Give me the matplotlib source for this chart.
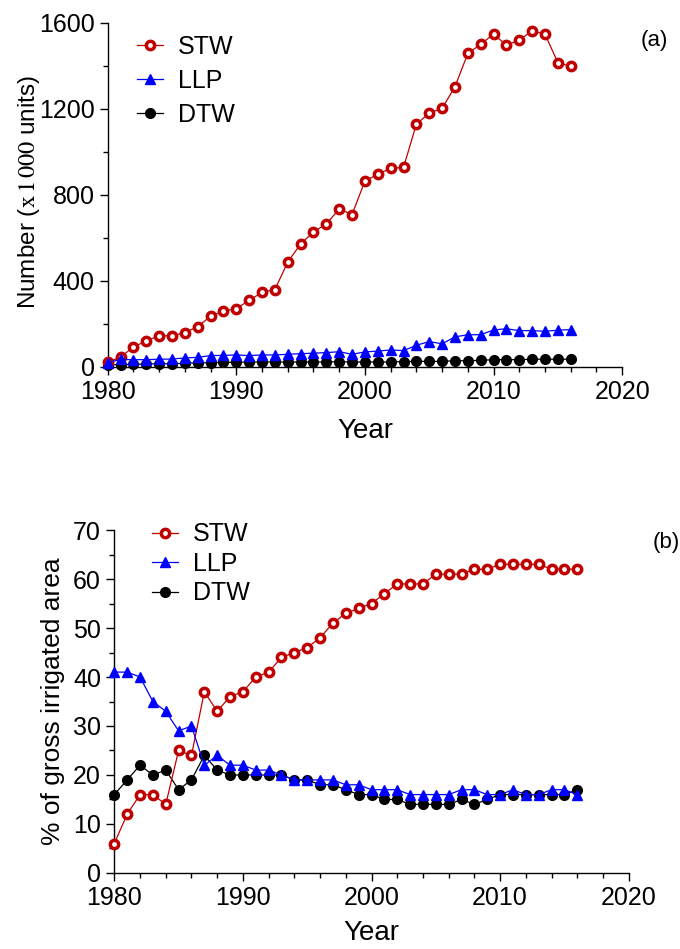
import matplotlib
matplotlib.use('Agg')
import matplotlib.pyplot as plt
from matplotlib import font_manager
from matplotlib.ticker import MultipleLocator

names = set(f.name for f in font_manager.fontManager.ttflist)
fam = 'Liberation Sans Narrow' if 'Liberation Sans Narrow' in names else 'Liberation Sans'
plt.rcParams['font.family'] = [fam, 'DejaVu Sans']
plt.rcParams['mathtext.fontset'] = 'stix'

years = list(range(1980, 2017))

# (a) number of units (x1000)
stw_num = [22, 46, 93, 121, 146, 144, 160, 188, 236, 260, 271, 310, 347, 360, 488, 572, 628,
           665, 735, 709, 865, 896, 924, 928, 1129, 1181, 1203, 1303, 1458, 1501, 1548, 1497,
           1520, 1563, 1548, 1416, 1398]
llp_num = [20, 35, 34, 34, 36, 37, 42, 45, 53, 54, 56, 53, 56, 56, 59, 62, 64,
           67, 71, 59, 70, 74, 79, 76, 101, 118, 108, 140, 150, 150, 172, 178,
           169, 169, 166, 171, 174]
dtw_num = [10, 11, 12, 14, 15, 15, 17, 19, 20, 22, 22, 23, 23, 23, 23, 23, 23,
           23, 25, 23, 23, 23, 23, 25, 26, 26, 26, 29, 29, 31, 34, 34,
           34, 36, 36, 36, 36]

# (b) % of gross irrigated area
stw_pct = [6, 12, 16, 16, 14, 25, 24, 37, 33, 36, 37, 40, 41, 44, 45, 46, 48, 51, 53, 54, 55,
           57, 59, 59, 59, 61, 61, 61, 62, 62, 63, 63, 63, 63, 62, 62, 62]
llp_pct = [41, 41, 40, 35, 33, 29, 30, 22, 24, 22, 22, 21, 21, 20, 19, 19, 19, 19, 18, 18, 17,
           17, 17, 16, 16, 16, 16, 17, 17, 16, 16, 17, 16, 16, 17, 17, 16]
dtw_pct = [16, 19, 22, 20, 21, 17, 19, 24, 21, 20, 20, 20, 20, 20, 19, 19, 18, 18, 17, 16, 16,
           15, 15, 14, 14, 14, 14, 15, 14, 15, 16, 16, 16, 16, 16, 16, 17]

red = '#c00000'
blue = '#0000ff'


def draw(ax, stw, llp, dtw):
    ax.plot(years, stw, color=red, lw=0.9, marker='o', ms=6, mfc='white', mec=red, mew=2.5,
            label='STW', zorder=3)
    ax.plot(years, llp, color=blue, lw=0.9, marker='^', ms=7, mfc=blue, mec=blue,
            label='LLP', zorder=4)
    ax.plot(years, dtw, color='black', lw=0.9, marker='o', ms=7, mfc='black', mec='black',
            label='DTW', zorder=2)
    for s in ['top', 'right']:
        ax.spines[s].set_visible(False)
    for s in ['left', 'bottom']:
        ax.spines[s].set_linewidth(1.0)
    ax.set_xlim(1980, 2020)
    ax.xaxis.set_major_locator(MultipleLocator(10))
    ax.xaxis.set_minor_locator(MultipleLocator(2))
    ax.tick_params(which='major', length=6, width=1.0, labelsize=18, direction='out')
    ax.tick_params(which='minor', length=3.5, width=1.0, direction='out')
    for p in ax.get_lines():
        p.set_clip_on(False)


fig = plt.figure(figsize=(6.8, 9.49), dpi=100)

ax1 = fig.add_axes([0.1584, 0.6133, 0.7565, 0.3625])
draw(ax1, stw_num, llp_num, dtw_num)
ax1.set_ylim(0, 1600)
ax1.yaxis.set_major_locator(MultipleLocator(400))
ax1.yaxis.set_minor_locator(MultipleLocator(200))
ax1.set_xlabel('Year', fontsize=20, labelpad=10)
ax1.set_ylabel(r'Number ($\mathrm{x}\,1\,000$ units)', fontsize=17.5)
ax1.yaxis.set_label_coords(-0.128, 0.51)
ax1.legend(loc='upper left', bbox_to_anchor=(0.056, 0.965), frameon=False, fontsize=18,
           handlelength=1.05, handletextpad=0.6, labelspacing=0.4,
           borderpad=0, borderaxespad=0)
ax1.text(1.09, 0.95, '(a)', transform=ax1.transAxes, fontsize=16, ha='right', va='center')

ax2 = fig.add_axes([0.1681, 0.0801, 0.7565, 0.3614])
draw(ax2, stw_pct, llp_pct, dtw_pct)
ax2.set_ylim(0, 70)
ax2.yaxis.set_major_locator(MultipleLocator(10))
ax2.yaxis.set_minor_locator(MultipleLocator(5))
ax2.set_xlabel('Year', fontsize=20, labelpad=7)
ax2.set_ylabel('% of gross irrigated area', fontsize=19, labelpad=6)
ax2.legend(loc='upper left', bbox_to_anchor=(0.073, 1.022), frameon=False, fontsize=18,
           handlelength=1.05, handletextpad=0.6, labelspacing=0.22,
           borderpad=0, borderaxespad=0)
ax2.text(1.1, 0.965, '(b)', transform=ax2.transAxes, fontsize=16, ha='right', va='center')

fig.savefig('out.png', dpi=100)
